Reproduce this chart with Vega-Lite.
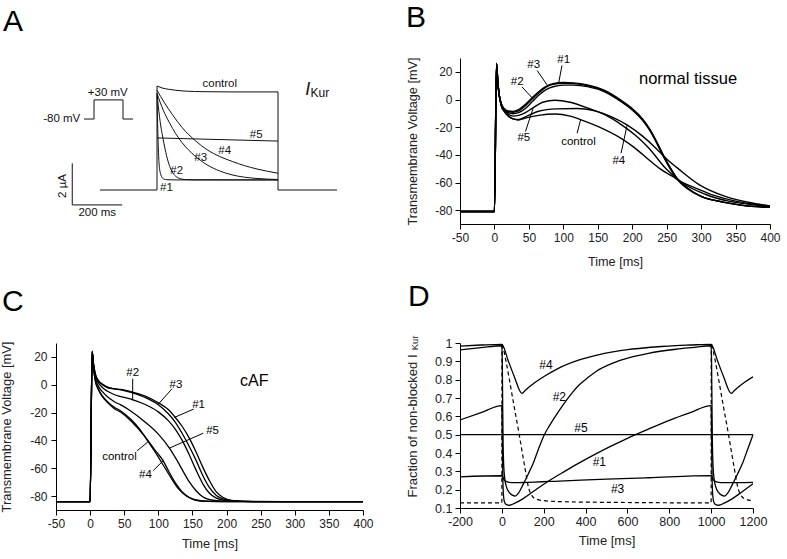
{
  "$schema": "https://vega.github.io/schema/vega-lite/v6.json",
  "background": "white",
  "padding": {"left": 0, "top": 3, "right": 2, "bottom": 2},
  "bounds": "flush",
  "columns": 2,
  "spacing": {"row": 119, "column": 97},
  "datasets": {
    "A": [
      {"s":"control","t":0,"i":4.95},{"s":"control","t":20,"i":4.86},{"s":"control","t":50,"i":4.79},{"s":"control","t":100,"i":4.72},{"s":"control","t":150,"i":4.69},{"s":"control","t":200,"i":4.68},{"s":"control","t":300,"i":4.67},{"s":"control","t":484,"i":4.67},
      {"s":"#1","t":0,"i":4.5},{"s":"#1","t":2,"i":3.4},{"s":"#1","t":4,"i":2.5},{"s":"#1","t":6,"i":1.8},{"s":"#1","t":8,"i":1.3},{"s":"#1","t":11,"i":0.95},{"s":"#1","t":14,"i":0.78},{"s":"#1","t":20,"i":0.6},{"s":"#1","t":28,"i":0.52},{"s":"#1","t":40,"i":0.49},{"s":"#1","t":80,"i":0.48},{"s":"#1","t":484,"i":0.48},
      {"s":"#2","t":0,"i":4.6},{"s":"#2","t":5,"i":4.0},{"s":"#2","t":10,"i":3.5},{"s":"#2","t":15,"i":3.05},{"s":"#2","t":21,"i":2.65},{"s":"#2","t":28,"i":2.2},{"s":"#2","t":35,"i":1.8},{"s":"#2","t":48,"i":1.22},{"s":"#2","t":60,"i":0.88},{"s":"#2","t":75,"i":0.65},{"s":"#2","t":90,"i":0.55},{"s":"#2","t":110,"i":0.5},{"s":"#2","t":150,"i":0.485},{"s":"#2","t":484,"i":0.48},
      {"s":"#3","t":0,"i":4.6},{"s":"#3","t":25,"i":3.8},{"s":"#3","t":50,"i":3.2},{"s":"#3","t":75,"i":2.68},{"s":"#3","t":100,"i":2.26},{"s":"#3","t":150,"i":1.64},{"s":"#3","t":200,"i":1.2},{"s":"#3","t":250,"i":0.91},{"s":"#3","t":300,"i":0.72},{"s":"#3","t":350,"i":0.61},{"s":"#3","t":400,"i":0.55},{"s":"#3","t":484,"i":0.5},
      {"s":"#4","t":0,"i":4.75},{"s":"#4","t":30,"i":4.15},{"s":"#4","t":61,"i":3.6},{"s":"#4","t":100,"i":2.98},{"s":"#4","t":155,"i":2.33},{"s":"#4","t":200,"i":1.92},{"s":"#4","t":250,"i":1.6},{"s":"#4","t":301,"i":1.36},{"s":"#4","t":350,"i":1.16},{"s":"#4","t":400,"i":1.0},{"s":"#4","t":484,"i":0.8},
      {"s":"#5","t":0,"i":2.48},{"s":"#5","t":484,"i":2.33}
    ],
    "Ar": [
      {"t":0,"t2":0,"i":0,"i2":4.95},
      {"t":484,"t2":484,"i":0,"i2":4.67},
      {"t":-228,"t2":0,"i":0,"i2":0},
      {"t":484,"t2":720,"i":0,"i2":0},
      {"t":-339,"t2":-339,"i":-0.71,"i2":1.27},
      {"t":-339,"t2":-139,"i":-0.71,"i2":-0.71},
      {"t":-292,"t2":-252,"i":3.38,"i2":3.38},
      {"t":-252,"t2":-252,"i":3.38,"i2":4.29},
      {"t":-252,"t2":-136,"i":4.29,"i2":4.29},
      {"t":-136,"t2":-136,"i":4.29,"i2":3.38},
      {"t":-136,"t2":-96,"i":3.38,"i2":3.38}
    ],
    "At": [
      {"label":"-80 mV","t":-381,"i":3.38},
      {"label":"+30 mV","t":-197,"i":4.6},
      {"label":"200 ms","t":-239,"i":-1.08},
      {"label":"control","t":251,"i":5.06},
      {"label":"#5","t":397,"i":2.62},
      {"label":"#4","t":271,"i":1.87},
      {"label":"#3","t":175,"i":1.51},
      {"label":"#2","t":79,"i":0.9},
      {"label":"#1","t":38,"i":0.1}
    ],
    "Arot": [{"label":"2 µA","t":-375,"i":0.19}],
    "AI": [{"label":"I","t":603,"i":4.76}],
    "Akur": [{"label":"Kur","t":614,"i":4.6}],
    "B": [
      {"s":"#1","t":-50,"v":-81},{"s":"#1","t":0,"v":-81},{"s":"#1","t":3,"v":26},{"s":"#1","t":5,"v":12},{"s":"#1","t":7,"v":3},{"s":"#1","t":10,"v":-3},{"s":"#1","t":14,"v":-6.5},{"s":"#1","t":20,"v":-8.3},{"s":"#1","t":27,"v":-8.6},{"s":"#1","t":35,"v":-7.3},{"s":"#1","t":45,"v":-3.5},{"s":"#1","t":55,"v":1.5},{"s":"#1","t":65,"v":6},{"s":"#1","t":75,"v":9.5},{"s":"#1","t":85,"v":11.5},{"s":"#1","t":100,"v":12.3},{"s":"#1","t":115,"v":12},{"s":"#1","t":135,"v":10.5},{"s":"#1","t":160,"v":6.5},{"s":"#1","t":185,"v":-1},{"s":"#1","t":200,"v":-6.5},{"s":"#1","t":215,"v":-14},{"s":"#1","t":225,"v":-21},{"s":"#1","t":235,"v":-30},{"s":"#1","t":245,"v":-40},{"s":"#1","t":255,"v":-49},{"s":"#1","t":265,"v":-57},{"s":"#1","t":280,"v":-64},{"s":"#1","t":300,"v":-70},{"s":"#1","t":330,"v":-74},{"s":"#1","t":360,"v":-76.5},{"s":"#1","t":400,"v":-78},
      {"s":"#3","t":-50,"v":-81},{"s":"#3","t":0,"v":-81},{"s":"#3","t":3,"v":26},{"s":"#3","t":5,"v":12},{"s":"#3","t":7,"v":3},{"s":"#3","t":10,"v":-3.2},{"s":"#3","t":14,"v":-7},{"s":"#3","t":20,"v":-8.8},{"s":"#3","t":27,"v":-9.3},{"s":"#3","t":35,"v":-8.3},{"s":"#3","t":45,"v":-4.5},{"s":"#3","t":55,"v":0.5},{"s":"#3","t":65,"v":5},{"s":"#3","t":75,"v":9},{"s":"#3","t":85,"v":11},{"s":"#3","t":100,"v":11.8},{"s":"#3","t":115,"v":11.5},{"s":"#3","t":135,"v":10},{"s":"#3","t":160,"v":6},{"s":"#3","t":185,"v":-1.5},{"s":"#3","t":200,"v":-7},{"s":"#3","t":215,"v":-14.5},{"s":"#3","t":225,"v":-21.5},{"s":"#3","t":235,"v":-30.5},{"s":"#3","t":245,"v":-40.5},{"s":"#3","t":255,"v":-49.5},{"s":"#3","t":265,"v":-57},{"s":"#3","t":280,"v":-64},{"s":"#3","t":300,"v":-70},{"s":"#3","t":330,"v":-74},{"s":"#3","t":360,"v":-76.5},{"s":"#3","t":400,"v":-78},
      {"s":"#2","t":-50,"v":-81},{"s":"#2","t":0,"v":-81},{"s":"#2","t":3,"v":26},{"s":"#2","t":5,"v":12},{"s":"#2","t":7,"v":3},{"s":"#2","t":10,"v":-3.5},{"s":"#2","t":14,"v":-7.5},{"s":"#2","t":20,"v":-9.5},{"s":"#2","t":27,"v":-10.3},{"s":"#2","t":35,"v":-9.5},{"s":"#2","t":45,"v":-6.5},{"s":"#2","t":55,"v":-1.5},{"s":"#2","t":65,"v":3.5},{"s":"#2","t":75,"v":7.2},{"s":"#2","t":85,"v":9.2},{"s":"#2","t":100,"v":10.4},{"s":"#2","t":115,"v":10.4},{"s":"#2","t":135,"v":9.3},{"s":"#2","t":160,"v":5.5},{"s":"#2","t":185,"v":-2},{"s":"#2","t":200,"v":-7.5},{"s":"#2","t":215,"v":-15},{"s":"#2","t":225,"v":-22},{"s":"#2","t":235,"v":-31},{"s":"#2","t":245,"v":-41},{"s":"#2","t":255,"v":-50},{"s":"#2","t":265,"v":-57.5},{"s":"#2","t":280,"v":-64.5},{"s":"#2","t":300,"v":-70},{"s":"#2","t":330,"v":-74},{"s":"#2","t":360,"v":-76.5},{"s":"#2","t":400,"v":-78},
      {"s":"#5","t":-50,"v":-81},{"s":"#5","t":0,"v":-81},{"s":"#5","t":3,"v":26},{"s":"#5","t":5,"v":12},{"s":"#5","t":7,"v":3},{"s":"#5","t":10,"v":-4},{"s":"#5","t":14,"v":-7.5},{"s":"#5","t":20,"v":-10.5},{"s":"#5","t":27,"v":-12},{"s":"#5","t":35,"v":-11.5},{"s":"#5","t":45,"v":-9.5},{"s":"#5","t":56,"v":-6},{"s":"#5","t":70,"v":-2},{"s":"#5","t":88,"v":-0.5},{"s":"#5","t":110,"v":-2},{"s":"#5","t":137,"v":-6.5},{"s":"#5","t":160,"v":-11},{"s":"#5","t":185,"v":-18.5},{"s":"#5","t":205,"v":-26},{"s":"#5","t":224,"v":-35},{"s":"#5","t":248,"v":-49.5},{"s":"#5","t":272,"v":-60},{"s":"#5","t":306,"v":-68.5},{"s":"#5","t":340,"v":-73.5},{"s":"#5","t":370,"v":-75.8},{"s":"#5","t":400,"v":-77.5},
      {"s":"#4","t":-50,"v":-81},{"s":"#4","t":0,"v":-81},{"s":"#4","t":3,"v":26},{"s":"#4","t":5,"v":12},{"s":"#4","t":7,"v":3},{"s":"#4","t":10,"v":-4.5},{"s":"#4","t":14,"v":-8.5},{"s":"#4","t":20,"v":-12},{"s":"#4","t":27,"v":-14},{"s":"#4","t":35,"v":-14.5},{"s":"#4","t":45,"v":-12.5},{"s":"#4","t":64,"v":-8.5},{"s":"#4","t":90,"v":-6.8},{"s":"#4","t":120,"v":-6.5},{"s":"#4","t":150,"v":-8.8},{"s":"#4","t":170,"v":-12.5},{"s":"#4","t":193,"v":-18.5},{"s":"#4","t":215,"v":-26.5},{"s":"#4","t":234,"v":-35},{"s":"#4","t":250,"v":-43},{"s":"#4","t":268,"v":-50.5},{"s":"#4","t":297,"v":-61.5},{"s":"#4","t":335,"v":-70},{"s":"#4","t":370,"v":-74.5},{"s":"#4","t":400,"v":-77},
      {"s":"control","t":-50,"v":-81},{"s":"control","t":0,"v":-81},{"s":"control","t":3,"v":26},{"s":"control","t":5,"v":12},{"s":"control","t":7,"v":3},{"s":"control","t":10,"v":-4.5},{"s":"control","t":14,"v":-8.5},{"s":"control","t":20,"v":-12},{"s":"control","t":27,"v":-14},{"s":"control","t":35,"v":-14.8},{"s":"control","t":45,"v":-13.5},{"s":"control","t":64,"v":-11.5},{"s":"control","t":88,"v":-10.5},{"s":"control","t":110,"v":-12},{"s":"control","t":125,"v":-14.5},{"s":"control","t":150,"v":-19.5},{"s":"control","t":185,"v":-28.5},{"s":"control","t":205,"v":-35.5},{"s":"control","t":224,"v":-43.5},{"s":"control","t":240,"v":-50},{"s":"control","t":258,"v":-55.5},{"s":"control","t":275,"v":-60.5},{"s":"control","t":292,"v":-64},{"s":"control","t":320,"v":-69.5},{"s":"control","t":350,"v":-73.5},{"s":"control","t":400,"v":-77}
    ],
    "Bp": [
      {"t":98,"v":24.6,"t2":93.4,"v2":12.4},
      {"t":62,"v":21,"t2":76.4,"v2":10.5},
      {"t":40,"v":9.1,"t2":57,"v2":0},
      {"t":45,"v":-23.2,"t2":56,"v2":-6.5},
      {"t":120,"v":-24.4,"t2":125,"v2":-14.8},
      {"t":183.8,"v":-38.8,"t2":192.6,"v2":-18.6}
    ],
    "Bt": [
      {"label":"#1","t":100.6,"v":28.2},
      {"label":"#3","t":57,"v":24.6},
      {"label":"#2","t":33,"v":12.7},
      {"label":"#5","t":42.6,"v":-28},
      {"label":"control","t":122,"v":-30.4},
      {"label":"#4","t":180.5,"v":-44.3}
    ],
    "Bn": [{"label":"normal tissue","t":281,"v":14.6}],
    "C": [
      {"s":"#1","t":-50,"v":-84},{"s":"#1","t":0,"v":-84},{"s":"#1","t":3,"v":24},{"s":"#1","t":5,"v":15},{"s":"#1","t":8,"v":7},{"s":"#1","t":12,"v":3},{"s":"#1","t":18,"v":0.5},{"s":"#1","t":25,"v":-1.5},{"s":"#1","t":35,"v":-2.8},{"s":"#1","t":45,"v":-3.3},{"s":"#1","t":60,"v":-5},{"s":"#1","t":80,"v":-8},{"s":"#1","t":100,"v":-13},{"s":"#1","t":115,"v":-18},{"s":"#1","t":124,"v":-23},{"s":"#1","t":135,"v":-30},{"s":"#1","t":145,"v":-38},{"s":"#1","t":155,"v":-48},{"s":"#1","t":165,"v":-59},{"s":"#1","t":175,"v":-69},{"s":"#1","t":185,"v":-77},{"s":"#1","t":195,"v":-81},{"s":"#1","t":210,"v":-83.3},{"s":"#1","t":240,"v":-84},{"s":"#1","t":400,"v":-84},
      {"s":"#3","t":-50,"v":-84},{"s":"#3","t":0,"v":-84},{"s":"#3","t":3,"v":24},{"s":"#3","t":5,"v":15},{"s":"#3","t":8,"v":7},{"s":"#3","t":12,"v":3},{"s":"#3","t":18,"v":0},{"s":"#3","t":25,"v":-2},{"s":"#3","t":35,"v":-3},{"s":"#3","t":45,"v":-3.6},{"s":"#3","t":60,"v":-5.5},{"s":"#3","t":80,"v":-9},{"s":"#3","t":99,"v":-14},{"s":"#3","t":115,"v":-21},{"s":"#3","t":125,"v":-27},{"s":"#3","t":135,"v":-35},{"s":"#3","t":145,"v":-44},{"s":"#3","t":155,"v":-54},{"s":"#3","t":165,"v":-65},{"s":"#3","t":175,"v":-74},{"s":"#3","t":185,"v":-79.5},{"s":"#3","t":195,"v":-82},{"s":"#3","t":210,"v":-83.5},{"s":"#3","t":240,"v":-84},{"s":"#3","t":400,"v":-84},
      {"s":"#2","t":-50,"v":-84},{"s":"#2","t":0,"v":-84},{"s":"#2","t":3,"v":24},{"s":"#2","t":5,"v":14},{"s":"#2","t":8,"v":6},{"s":"#2","t":12,"v":1.5},{"s":"#2","t":18,"v":-2},{"s":"#2","t":25,"v":-4.5},{"s":"#2","t":35,"v":-7},{"s":"#2","t":45,"v":-8.5},{"s":"#2","t":63,"v":-10.8},{"s":"#2","t":80,"v":-14},{"s":"#2","t":100,"v":-19.5},{"s":"#2","t":115,"v":-26},{"s":"#2","t":125,"v":-32},{"s":"#2","t":135,"v":-40},{"s":"#2","t":145,"v":-50},{"s":"#2","t":155,"v":-61},{"s":"#2","t":165,"v":-71},{"s":"#2","t":175,"v":-78},{"s":"#2","t":185,"v":-81.5},{"s":"#2","t":200,"v":-83.3},{"s":"#2","t":240,"v":-84},{"s":"#2","t":400,"v":-84},
      {"s":"#5","t":-50,"v":-84},{"s":"#5","t":0,"v":-84},{"s":"#5","t":3,"v":24},{"s":"#5","t":5,"v":13},{"s":"#5","t":8,"v":4},{"s":"#5","t":12,"v":-1},{"s":"#5","t":18,"v":-5},{"s":"#5","t":25,"v":-8.5},{"s":"#5","t":35,"v":-12},{"s":"#5","t":45,"v":-14.5},{"s":"#5","t":60,"v":-19},{"s":"#5","t":80,"v":-26.5},{"s":"#5","t":100,"v":-35.5},{"s":"#5","t":117,"v":-46},{"s":"#5","t":127,"v":-54},{"s":"#5","t":135,"v":-61},{"s":"#5","t":145,"v":-69.5},{"s":"#5","t":155,"v":-76},{"s":"#5","t":165,"v":-80.5},{"s":"#5","t":180,"v":-83},{"s":"#5","t":200,"v":-83.8},{"s":"#5","t":400,"v":-84},
      {"s":"control","t":-50,"v":-84},{"s":"control","t":0,"v":-84},{"s":"control","t":3,"v":24},{"s":"control","t":5,"v":12},{"s":"control","t":8,"v":2},{"s":"control","t":12,"v":-3},{"s":"control","t":18,"v":-8},{"s":"control","t":25,"v":-12},{"s":"control","t":35,"v":-16},{"s":"control","t":45,"v":-18.8},{"s":"control","t":60,"v":-25},{"s":"control","t":72,"v":-31.5},{"s":"control","t":86,"v":-41.5},{"s":"control","t":100,"v":-52},{"s":"control","t":110,"v":-60},{"s":"control","t":120,"v":-68},{"s":"control","t":130,"v":-75},{"s":"control","t":140,"v":-79.5},{"s":"control","t":150,"v":-82},{"s":"control","t":165,"v":-83.5},{"s":"control","t":200,"v":-84},{"s":"control","t":400,"v":-84},
      {"s":"#4","t":-50,"v":-84},{"s":"#4","t":0,"v":-84},{"s":"#4","t":3,"v":24},{"s":"#4","t":5,"v":12},{"s":"#4","t":8,"v":2},{"s":"#4","t":12,"v":-3.5},{"s":"#4","t":18,"v":-8.5},{"s":"#4","t":25,"v":-12.5},{"s":"#4","t":35,"v":-17},{"s":"#4","t":45,"v":-19.8},{"s":"#4","t":60,"v":-26},{"s":"#4","t":80,"v":-37},{"s":"#4","t":95,"v":-47},{"s":"#4","t":107,"v":-54.5},{"s":"#4","t":115,"v":-62},{"s":"#4","t":125,"v":-70.5},{"s":"#4","t":135,"v":-77},{"s":"#4","t":145,"v":-81},{"s":"#4","t":155,"v":-83},{"s":"#4","t":170,"v":-83.8},{"s":"#4","t":200,"v":-84},{"s":"#4","t":400,"v":-84}
    ],
    "Cp": [
      {"t":62.4,"v":4.3,"t2":62.4,"v2":-11.3},
      {"t":120,"v":-2.9,"t2":99,"v2":-14.5},
      {"t":151.7,"v":-17.5,"t2":123.4,"v2":-23.5},
      {"t":165.9,"v":-34.8,"t2":116,"v2":-45.6},
      {"t":68.8,"v":-47.5,"t2":85.4,"v2":-40.8},
      {"t":92.7,"v":-61.6,"t2":107.3,"v2":-54.5}
    ],
    "Ct": [
      {"label":"#2","t":62.4,"v":8.4},
      {"label":"#3","t":125.9,"v":0},
      {"label":"#1","t":159,"v":-14.4},
      {"label":"#5","t":179.5,"v":-33.1},
      {"label":"control","t":43,"v":-51.6},
      {"label":"#4","t":81,"v":-64.7}
    ],
    "Cn": [{"label":"cAF","t":240.5,"v":2.9}],
    "D": [
      {"s":"#4","t":-200,"f":0.983},{"s":"#4","t":-100,"f":0.989},{"s":"#4","t":0,"f":0.993},{"s":"#4","t":3,"f":0.99},{"s":"#4","t":30,"f":0.905},{"s":"#4","t":60,"f":0.815},{"s":"#4","t":96,"f":0.725},{"s":"#4","t":110,"f":0.74},{"s":"#4","t":130,"f":0.76},{"s":"#4","t":160,"f":0.786},{"s":"#4","t":211,"f":0.824},{"s":"#4","t":270,"f":0.862},{"s":"#4","t":370,"f":0.908},{"s":"#4","t":450,"f":0.933},{"s":"#4","t":530,"f":0.952},{"s":"#4","t":610,"f":0.965},{"s":"#4","t":689,"f":0.974},{"s":"#4","t":760,"f":0.981},{"s":"#4","t":832,"f":0.986},{"s":"#4","t":900,"f":0.989},{"s":"#4","t":1000,"f":0.993},{"s":"#4","t":1003,"f":0.99},{"s":"#4","t":1030,"f":0.905},{"s":"#4","t":1060,"f":0.815},{"s":"#4","t":1096,"f":0.725},{"s":"#4","t":1110,"f":0.74},{"s":"#4","t":1130,"f":0.76},{"s":"#4","t":1160,"f":0.786},{"s":"#4","t":1200,"f":0.815},
      {"s":"#2","t":-200,"f":0.963},{"s":"#2","t":-100,"f":0.975},{"s":"#2","t":0,"f":0.985},{"s":"#2","t":2,"f":0.9},{"s":"#2","t":4,"f":0.65},{"s":"#2","t":6,"f":0.45},{"s":"#2","t":9,"f":0.33},{"s":"#2","t":14,"f":0.26},{"s":"#2","t":22,"f":0.215},{"s":"#2","t":35,"f":0.185},{"s":"#2","t":50,"f":0.17},{"s":"#2","t":64,"f":0.165},{"s":"#2","t":80,"f":0.182},{"s":"#2","t":100,"f":0.225},{"s":"#2","t":125,"f":0.283},{"s":"#2","t":150,"f":0.344},{"s":"#2","t":175,"f":0.422},{"s":"#2","t":203,"f":0.5},{"s":"#2","t":227,"f":0.548},{"s":"#2","t":250,"f":0.59},{"s":"#2","t":291,"f":0.66},{"s":"#2","t":330,"f":0.72},{"s":"#2","t":370,"f":0.772},{"s":"#2","t":410,"f":0.81},{"s":"#2","t":450,"f":0.845},{"s":"#2","t":530,"f":0.89},{"s":"#2","t":609,"f":0.92},{"s":"#2","t":700,"f":0.944},{"s":"#2","t":832,"f":0.966},{"s":"#2","t":920,"f":0.976},{"s":"#2","t":1000,"f":0.985},{"s":"#2","t":1002,"f":0.9},{"s":"#2","t":1004,"f":0.65},{"s":"#2","t":1006,"f":0.45},{"s":"#2","t":1009,"f":0.33},{"s":"#2","t":1014,"f":0.26},{"s":"#2","t":1022,"f":0.215},{"s":"#2","t":1035,"f":0.185},{"s":"#2","t":1050,"f":0.17},{"s":"#2","t":1064,"f":0.165},{"s":"#2","t":1080,"f":0.182},{"s":"#2","t":1100,"f":0.225},{"s":"#2","t":1125,"f":0.283},{"s":"#2","t":1150,"f":0.344},{"s":"#2","t":1175,"f":0.422},{"s":"#2","t":1200,"f":0.5},
      {"s":"#1","t":-200,"f":0.58},{"s":"#1","t":-100,"f":0.62},{"s":"#1","t":0,"f":0.658},{"s":"#1","t":2,"f":0.5},{"s":"#1","t":4,"f":0.3},{"s":"#1","t":7,"f":0.18},{"s":"#1","t":12,"f":0.135},{"s":"#1","t":20,"f":0.12},{"s":"#1","t":36,"f":0.115},{"s":"#1","t":60,"f":0.125},{"s":"#1","t":100,"f":0.15},{"s":"#1","t":150,"f":0.19},{"s":"#1","t":200,"f":0.23},{"s":"#1","t":300,"f":0.3},{"s":"#1","t":400,"f":0.365},{"s":"#1","t":500,"f":0.425},{"s":"#1","t":600,"f":0.48},{"s":"#1","t":700,"f":0.53},{"s":"#1","t":800,"f":0.578},{"s":"#1","t":900,"f":0.62},{"s":"#1","t":1000,"f":0.658},{"s":"#1","t":1002,"f":0.5},{"s":"#1","t":1004,"f":0.3},{"s":"#1","t":1007,"f":0.18},{"s":"#1","t":1012,"f":0.135},{"s":"#1","t":1020,"f":0.12},{"s":"#1","t":1036,"f":0.115},{"s":"#1","t":1060,"f":0.125},{"s":"#1","t":1100,"f":0.15},{"s":"#1","t":1150,"f":0.19},{"s":"#1","t":1200,"f":0.232},
      {"s":"#3","t":-200,"f":0.27},{"s":"#3","t":0,"f":0.276},{"s":"#3","t":4,"f":0.27},{"s":"#3","t":10,"f":0.255},{"s":"#3","t":20,"f":0.245},{"s":"#3","t":35,"f":0.24},{"s":"#3","t":60,"f":0.238},{"s":"#3","t":100,"f":0.239},{"s":"#3","t":300,"f":0.248},{"s":"#3","t":500,"f":0.257},{"s":"#3","t":700,"f":0.265},{"s":"#3","t":1000,"f":0.277},{"s":"#3","t":1004,"f":0.27},{"s":"#3","t":1010,"f":0.255},{"s":"#3","t":1020,"f":0.245},{"s":"#3","t":1035,"f":0.24},{"s":"#3","t":1060,"f":0.238},{"s":"#3","t":1200,"f":0.24},
      {"s":"#5","t":-200,"f":0.5},{"s":"#5","t":1200,"f":0.5}
    ],
    "Dd": [
      {"t":-200,"f":0.128},{"t":0,"f":0.128},{"t":0.5,"f":1.0},{"t":3,"f":0.99},{"t":20,"f":0.9},{"t":36,"f":0.8},{"t":60,"f":0.645},{"t":80,"f":0.52},{"t":95,"f":0.42},{"t":110,"f":0.32},{"t":128,"f":0.21},{"t":145,"f":0.165},{"t":165,"f":0.148},{"t":200,"f":0.14},{"t":300,"f":0.134},{"t":600,"f":0.13},{"t":1000,"f":0.128},
      {"t":1000.5,"f":1.0},{"t":1003,"f":0.99},{"t":1020,"f":0.9},{"t":1036,"f":0.8},{"t":1060,"f":0.645},{"t":1080,"f":0.52},{"t":1095,"f":0.42},{"t":1110,"f":0.32},{"t":1128,"f":0.21},{"t":1145,"f":0.165},{"t":1165,"f":0.148},{"t":1200,"f":0.14}
    ],
    "Dt": [
      {"label":"#4","t":211,"f":0.88},
      {"label":"#2","t":274.5,"f":0.707},
      {"label":"#5","t":378,"f":0.535},
      {"label":"#1","t":465.7,"f":0.349},
      {"label":"#3","t":553,"f":0.202}
    ],
    "Dk": [{"label":"Kur","t":-413,"f":0.96}]
  },
  "concat": [
    {
      "width": 307, "height": 166,
      "title": {"text": "A", "dx": -53, "offset": 21},
      "encoding": {
        "x": {"field": "t", "type": "quantitative", "scale": {"domain": [-404, 824], "nice": false, "zero": false}, "axis": null},
        "y": {"field": "i", "type": "quantitative", "scale": {"domain": [-1.619, 6.286], "nice": false, "zero": false}, "axis": null}
      },
      "layer": [
        {
          "data": {"name": "A"},
          "mark": {"type": "line", "interpolate": "monotone", "strokeWidth": 1, "color": "#111"},
          "encoding": {"detail": {"field": "s"}}
        },
        {
          "data": {"name": "Ar"},
          "mark": {"type": "rule", "strokeWidth": 1, "color": "#111"},
          "encoding": {"x2": {"field": "t2"}, "y2": {"field": "i2"}}
        },
        {
          "data": {"name": "At"},
          "mark": {"type": "text", "fontSize": 11.5, "color": "#111"},
          "encoding": {"text": {"field": "label"}}
        },
        {
          "data": {"name": "Arot"},
          "mark": {"type": "text", "fontSize": 11.5, "angle": 270, "color": "#111"},
          "encoding": {"text": {"field": "label"}}
        },
        {
          "data": {"name": "AI"},
          "mark": {"type": "text", "fontSize": 18, "fontStyle": "italic", "color": "#111"},
          "encoding": {"text": {"field": "label"}}
        },
        {
          "data": {"name": "Akur"},
          "mark": {"type": "text", "fontSize": 12, "align": "left", "color": "#111"},
          "encoding": {"text": {"field": "label"}}
        }
      ]
    },
    {
      "width": 310, "height": 166,
      "title": {"text": "B", "dx": -54, "offset": 21},
      "encoding": {
        "x": {"field": "t", "type": "quantitative", "scale": {"domain": [-50, 400], "nice": false, "zero": false},
              "axis": {"title": "Time [ms]", "values": [-50,0,50,100,150,200,250,300,350,400], "labelExpr": "'' + datum.value", "labelPadding": 3, "titlePadding": 12, "titleFontSize": 12.7}},
        "y": {"field": "v", "type": "quantitative", "scale": {"domain": [-90, 30], "nice": false, "zero": false},
              "axis": {"title": "Transmembrane Voltage [mV]", "values": [-80,-60,-40,-20,0,20], "labelExpr": "'' + datum.value", "labelPadding": 3, "titlePadding": 15, "titleFontSize": 12.7}}
      },
      "layer": [
        {
          "data": {"name": "B"},
          "mark": {"type": "line", "interpolate": "monotone", "strokeWidth": 1.4, "color": "#000"},
          "encoding": {"detail": {"field": "s"}}
        },
        {
          "data": {"name": "Bp"},
          "mark": {"type": "rule", "strokeWidth": 1, "color": "#000"},
          "encoding": {"x2": {"field": "t2"}, "y2": {"field": "v2"}}
        },
        {
          "data": {"name": "Bt"},
          "mark": {"type": "text", "fontSize": 11.5, "color": "#000"},
          "encoding": {"text": {"field": "label"}}
        },
        {
          "data": {"name": "Bn"},
          "mark": {"type": "text", "fontSize": 16.5, "color": "#000"},
          "encoding": {"text": {"field": "label"}}
        }
      ]
    },
    {
      "width": 307, "height": 167,
      "title": {"text": "C", "dx": -54, "offset": 24},
      "encoding": {
        "x": {"field": "t", "type": "quantitative", "scale": {"domain": [-50, 400], "nice": false, "zero": false},
              "axis": {"title": "Time [ms]", "values": [-50,0,50,100,150,200,250,300,350,400], "labelExpr": "'' + datum.value", "labelPadding": 3, "titlePadding": 8, "titleFontSize": 12.9}},
        "y": {"field": "v", "type": "quantitative", "scale": {"domain": [-90, 30], "nice": false, "zero": false},
              "axis": {"title": "Transmembrane Voltage [mV]", "values": [-80,-60,-40,-20,0,20], "labelExpr": "'' + datum.value", "labelPadding": 4, "titlePadding": 16, "titleFontSize": 12.9}}
      },
      "layer": [
        {
          "data": {"name": "C"},
          "mark": {"type": "line", "interpolate": "monotone", "strokeWidth": 1.3, "color": "#000"},
          "encoding": {"detail": {"field": "s"}}
        },
        {
          "data": {"name": "Cp"},
          "mark": {"type": "rule", "strokeWidth": 1, "color": "#000"},
          "encoding": {"x2": {"field": "t2"}, "y2": {"field": "v2"}}
        },
        {
          "data": {"name": "Ct"},
          "mark": {"type": "text", "fontSize": 11.5, "color": "#000"},
          "encoding": {"text": {"field": "label"}}
        },
        {
          "data": {"name": "Cn"},
          "mark": {"type": "text", "fontSize": 16, "color": "#000"},
          "encoding": {"text": {"field": "label"}}
        }
      ]
    },
    {
      "width": 293, "height": 165,
      "title": {"text": "D", "dx": -52, "offset": 24},
      "encoding": {
        "x": {"field": "t", "type": "quantitative", "scale": {"domain": [-200, 1200], "nice": false, "zero": false},
              "axis": {"title": "Time [ms]", "values": [-200,0,200,400,600,800,1000,1200], "labelExpr": "'' + datum.value", "labelPadding": 2, "titlePadding": 7, "titleFontSize": 13, "labelFontSize": 12.5}},
        "y": {"field": "f", "type": "quantitative", "scale": {"domain": [0.1, 1], "nice": false, "zero": false},
              "axis": {"title": "Fraction of non-blocked I", "values": [0.1,0.2,0.3,0.4,0.5,0.6,0.7,0.8,0.9,1], "labelExpr": "'' + datum.value", "labelPadding": 3, "titlePadding": 15, "titleFontSize": 13, "labelFontSize": 12.5}}
      },
      "layer": [
        {
          "data": {"name": "D"},
          "mark": {"type": "line", "interpolate": "monotone", "strokeWidth": 1.3, "color": "#000"},
          "encoding": {"detail": {"field": "s"}}
        },
        {
          "data": {"name": "Dd"},
          "mark": {"type": "line", "interpolate": "monotone", "strokeWidth": 1.2, "strokeDash": [4, 3], "color": "#000"},
          "encoding": {}
        },
        {
          "data": {"name": "Dt"},
          "mark": {"type": "text", "fontSize": 12, "color": "#000"},
          "encoding": {"text": {"field": "label"}}
        },
        {
          "data": {"name": "Dk"},
          "mark": {"type": "text", "fontSize": 9.5, "angle": 270, "align": "left", "color": "#222"},
          "encoding": {"text": {"field": "label"}}
        }
      ]
    }
  ],
  "config": {
    "font": "Liberation Sans",
    "view": {"stroke": null},
    "axis": {
      "domainColor": "#000", "tickColor": "#000", "labelColor": "#222", "titleColor": "#222",
      "labelFontSize": 12, "titleFontSize": 12, "titleFontWeight": "normal", "grid": false,
      "tickSize": 5, "labelFlush": false, "labelOverlap": false,
      "labelFont": "Liberation Sans", "titleFont": "Liberation Sans"
    },
    "title": {"fontSize": 30, "fontWeight": "normal", "anchor": "start", "frame": "group", "font": "Liberation Sans", "color": "#000", "baseline": "alphabetic"}
  }
}
